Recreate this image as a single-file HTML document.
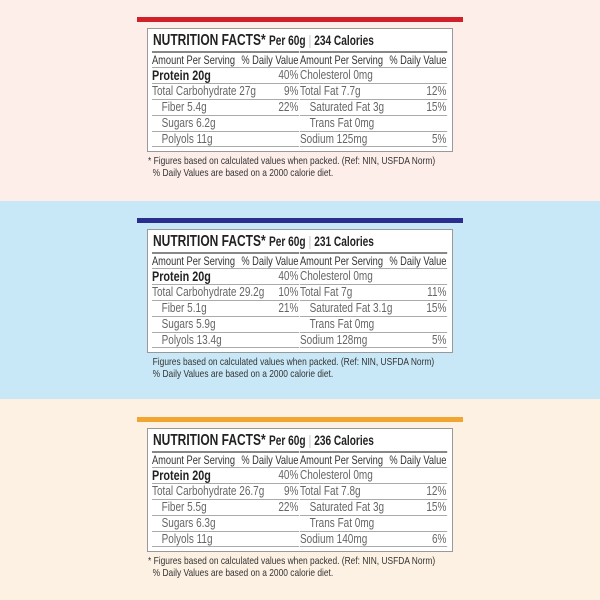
<!DOCTYPE html><html><head><style>
*{margin:0;padding:0;box-sizing:border-box}
body{width:600px;height:600px;position:relative;overflow:hidden;font-family:"Liberation Sans",sans-serif;}
.sec{position:absolute;left:0;width:600px}
.bar{position:absolute;left:137px;width:326px;height:5px}
.box{position:absolute;left:147px;width:306px;height:124px;border:1.5px solid #999;background:#fff}
.t{position:absolute;left:5px;top:3px;font-size:16px;font-weight:bold;color:#222;white-space:nowrap;transform:scaleX(0.75);transform-origin:left}
.t span{font-size:13.5px}
.t i{font-style:normal;color:#bbb;font-weight:normal;margin:0 4px}
.col{position:absolute;top:22px;width:184px;transform:scaleX(0.8);transform-origin:left top}
.r{height:16px;border-top:1px solid #aaa;font-size:12.5px;color:#666;line-height:15px;position:relative;white-space:nowrap}
.r:first-child{border-top:2px solid #888;color:#333;font-size:11.6px}
.r b{position:absolute;right:1px;top:0;font-weight:normal}
.r.p{font-weight:bold;color:#222;font-size:13.5px}
.r.p b{font-size:12.5px;color:#666;font-weight:normal}
.r:last-child{border-bottom:1px solid #aaa}
.in{padding-left:12px}
.f{position:absolute;left:148px;font-size:10.5px;color:#333;line-height:12px;white-space:nowrap;transform:scaleX(0.8);transform-origin:left}
</style></head><body>

<div class="sec" style="top:0;height:201px;background:#fdeeea">
<div class="bar" style="top:17px;background:#d0202a"></div>
<div class="box" style="top:28px">
<div class="t">NUTRITION FACTS* <span>Per 60g<i>|</i>234 Calories</span></div>
<div class="col" style="left:4px">
<div class="r">Amount Per Serving<b>% Daily Value</b></div>
<div class="r p">Protein 20g<b>40%</b></div>
<div class="r">Total Carbohydrate 27g<b>9%</b></div>
<div class="r in">Fiber 5.4g<b>22%</b></div>
<div class="r in">Sugars 6.2g</div>
<div class="r in">Polyols 11g</div></div>
<div class="col" style="left:152px">
<div class="r">Amount Per Serving<b>% Daily Value</b></div>
<div class="r">Cholesterol 0mg</div>
<div class="r">Total Fat 7.7g<b>12%</b></div>
<div class="r in">Saturated Fat 3g<b>15%</b></div>
<div class="r in">Trans Fat 0mg</div>
<div class="r">Sodium 125mg<b>5%</b></div></div>
</div>
<div class="f" style="top:155px">* Figures based on calculated values when packed. (Ref: NIN, USFDA Norm)<br>&nbsp;&nbsp;% Daily Values are based on a 2000 calorie diet.</div>
</div>

<div class="sec" style="top:201px;height:198px;background:#c9e8f7">
<div class="bar" style="top:17px;background:#2a2f8f"></div>
<div class="box" style="top:28px">
<div class="t">NUTRITION FACTS* <span>Per 60g<i>|</i>231 Calories</span></div>
<div class="col" style="left:4px">
<div class="r">Amount Per Serving<b>% Daily Value</b></div>
<div class="r p">Protein 20g<b>40%</b></div>
<div class="r">Total Carbohydrate 29.2g<b>10%</b></div>
<div class="r in">Fiber 5.1g<b>21%</b></div>
<div class="r in">Sugars 5.9g</div>
<div class="r in">Polyols 13.4g</div></div>
<div class="col" style="left:152px">
<div class="r">Amount Per Serving<b>% Daily Value</b></div>
<div class="r">Cholesterol 0mg</div>
<div class="r">Total Fat 7g<b>11%</b></div>
<div class="r in">Saturated Fat 3.1g<b>15%</b></div>
<div class="r in">Trans Fat 0mg</div>
<div class="r">Sodium 128mg<b>5%</b></div></div>
</div>
<div class="f" style="top:155px">&nbsp;&nbsp;Figures based on calculated values when packed. (Ref: NIN, USFDA Norm)<br>&nbsp;&nbsp;% Daily Values are based on a 2000 calorie diet.</div>
</div>

<div class="sec" style="top:399px;height:201px;background:#fdf1e3">
<div class="bar" style="top:18px;background:#f2a531"></div>
<div class="box" style="top:29px">
<div class="t">NUTRITION FACTS* <span>Per 60g<i>|</i>236 Calories</span></div>
<div class="col" style="left:4px">
<div class="r">Amount Per Serving<b>% Daily Value</b></div>
<div class="r p">Protein 20g<b>40%</b></div>
<div class="r">Total Carbohydrate 26.7g<b>9%</b></div>
<div class="r in">Fiber 5.5g<b>22%</b></div>
<div class="r in">Sugars 6.3g</div>
<div class="r in">Polyols 11g</div></div>
<div class="col" style="left:152px">
<div class="r">Amount Per Serving<b>% Daily Value</b></div>
<div class="r">Cholesterol 0mg</div>
<div class="r">Total Fat 7.8g<b>12%</b></div>
<div class="r in">Saturated Fat 3g<b>15%</b></div>
<div class="r in">Trans Fat 0mg</div>
<div class="r">Sodium 140mg<b>6%</b></div></div>
</div>
<div class="f" style="top:156px">* Figures based on calculated values when packed. (Ref: NIN, USFDA Norm)<br>&nbsp;&nbsp;% Daily Values are based on a 2000 calorie diet.</div>
</div>
</body></html>
